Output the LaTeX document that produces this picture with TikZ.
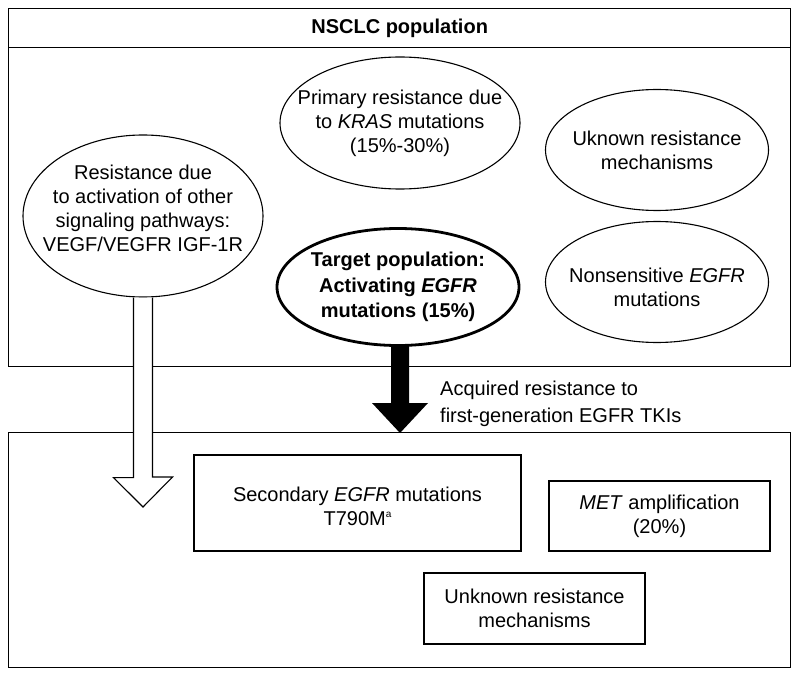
\documentclass[tikz,border=0pt]{standalone}
\usepackage{fontspec}
\setmainfont{Liberation Sans}
\usetikzlibrary{shapes.geometric}
\newcommand{\txtfont}{\fontsize{20}{24}\selectfont}
\newcommand{\boldfont}{\fontsize{20}{25.5}\selectfont\bfseries}
\begin{document}
\begin{tikzpicture}[x=1pt,y=-1pt,
  frame/.style={draw, line width=1.3pt, inner sep=0pt},
  oval/.style={ellipse, draw, line width=1.1pt, inner xsep=-60pt, inner ysep=-40pt, align=center, font=\txtfont},
  rbox/.style={draw, line width=1.2pt, inner sep=0pt, align=center, font=\txtfont},
  hollowarrow/.style={draw, fill=white, line width=1.1pt, line join=miter},
  solidarrow/.style={fill=black}
]
\useasboundingbox (0,0) rectangle (800,679);
\fill[white] (0,0) rectangle (800,679);

% frames
\node[frame, anchor=north west, minimum width=782pt, minimum height=358pt] (top) at (8,8) {};
\node[frame, anchor=north west, minimum width=782pt, minimum height=39pt, font=\boldfont] (hdr) at (8,8) {NSCLC population};
\node[frame, anchor=north west, minimum width=782pt, minimum height=235pt] (bot) at (8,432) {};

% ovals in top frame
\node[oval, minimum width=240pt, minimum height=162pt] (L) at (143,216)
  {Resistance due\\to activation of other\\signaling pathways:\\VEGF/VEGFR IGF-1R\\[-8pt]\mbox{}};
\node[oval, minimum width=240pt, minimum height=132pt] (P) at (400,123)
  {Primary resistance due\\to \textit{KRAS} mutations\\(15\%-30\%)};
\node[oval, minimum width=223pt, minimum height=121pt] (U) at (657,150)
  {Uknown resistance\\mechanisms};
\node[oval, minimum width=223pt, minimum height=121pt] (N) at (657,282)
  {\rule{0pt}{25pt}Nonsensitive \textit{EGFR}\\mutations};
\node[oval, line width=2.8pt, minimum width=242pt, minimum height=117pt, font=\boldfont] (T) at (398,287)
  {Target population:\\Activating \textit{EGFR}\\mutations (15\%)};

% boxes in bottom frame
\node[rbox, minimum width=327pt, minimum height=96pt] (S) at (357.5,503)
  {\rule{0pt}{21pt}Secondary \textit{EGFR} mutations\\T790M\raisebox{0.75ex}{\fontsize{10}{10}\selectfont a}};
\node[rbox, minimum width=221pt, minimum height=70pt] (M) at (659.5,516)
  {\textit{MET} amplification\\(20\%)};
\node[rbox, minimum width=221pt, minimum height=71pt] (K) at (534.5,608.5)
  {Unknown resistance\\mechanisms};

% label
\node[anchor=west, align=left, font=\fontsize{20}{27}\selectfont, inner sep=0pt] (acq) at (440,404)
  {Acquired resistance to\\first-generation EGFR TKIs};

% hollow arrow from L into bottom frame
\coordinate (htip) at (143,507);
\draw[hollowarrow] ([xshift=-9.5pt]L.south) -- ++(0,180) -- ++(-20,0) -- (htip) -- ++(29.5,-30) -- ++(-20,0) -- ([xshift=9.5pt]L.south);

% solid arrow from T to bottom frame
\coordinate (stip) at (400,433);
\fill[solidarrow] ([xshift=-7pt,yshift=1pt]T.south) -- (391,403) -- (372,403) -- (stip) -- (428,403) -- (409,403) -- ([xshift=11pt,yshift=1pt]T.south) -- cycle;
\end{tikzpicture}
\end{document}
